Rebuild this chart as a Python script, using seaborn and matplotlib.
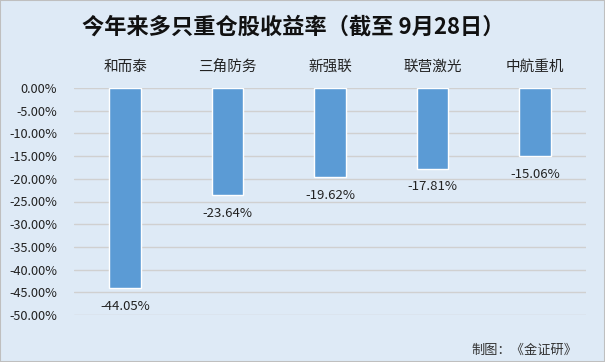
import matplotlib
matplotlib.use("Agg")
import matplotlib.pyplot as plt
import seaborn as sns
import pandas as pd

categories = ["和而泰", "三角防务", "新强联", "联营激光", "中航重机"]
values = [-44.05, -23.64, -19.62, -17.81, -15.06]
yticks = [0, -5, -10, -15, -20, -25, -30, -35, -40, -45, -50]
title = "今年来多只重仓股收益率（截至 9月28日）"
footer = "制图：《金证研》"

sns.set_theme(style="white")
plt.rcParams['font.family'] = ['Noto Sans CJK SC', 'DejaVu Sans']
plt.rcParams['axes.unicode_minus'] = False

bg = "#DEEAF6"
fig = plt.figure(figsize=(6.05, 3.62), dpi=100, facecolor=bg)
ax = fig.add_axes([74/605, 47/362, 512/605, 227/362])
ax.set_facecolor(bg)

df = pd.DataFrame({"cat": categories, "val": values})
sns.barplot(data=df, x="cat", y="val", color="#5B9BD5", width=0.31, ax=ax, saturation=1)

ax.set_ylim(-50, 0)
ax.set_yticks(yticks)
ax.set_yticklabels([f"{v:.2f}%" for v in yticks], fontsize=9.2, color="#222222")
ax.yaxis.grid(True, color="#D0D0D0", linewidth=1)
ax.set_axisbelow(True)
ax.xaxis.tick_top()
ax.tick_params(axis="x", length=0, labelsize=10.5, pad=10, colors="#222222")
ax.tick_params(axis="y", length=0, pad=12)
ax.set_xlabel("")
ax.set_ylabel("")
for s in ax.spines.values():
    s.set_visible(False)

for i, v in enumerate(values):
    ax.annotate(f"{v:.2f}%", (i, v), xytext=(0, -13), textcoords="offset points",
                ha="center", va="center", fontsize=9.5, color="#222222", annotation_clip=False)

fig.text(293.5/605, 1 - 27/362, title, ha="center", va="center", fontsize=16,
         fontweight="bold", color="#111111")
fig.text(577/605, 1 - 350/362, footer, ha="right", va="center", fontsize=9.5, color="#333333")

# border
fig.patches.append(plt.Rectangle((0, 0), 1, 1, transform=fig.transFigure, fill=False,
                                 edgecolor="#BFBFBF", linewidth=1.5))
fig.savefig("out.png", dpi=100, facecolor=bg)
